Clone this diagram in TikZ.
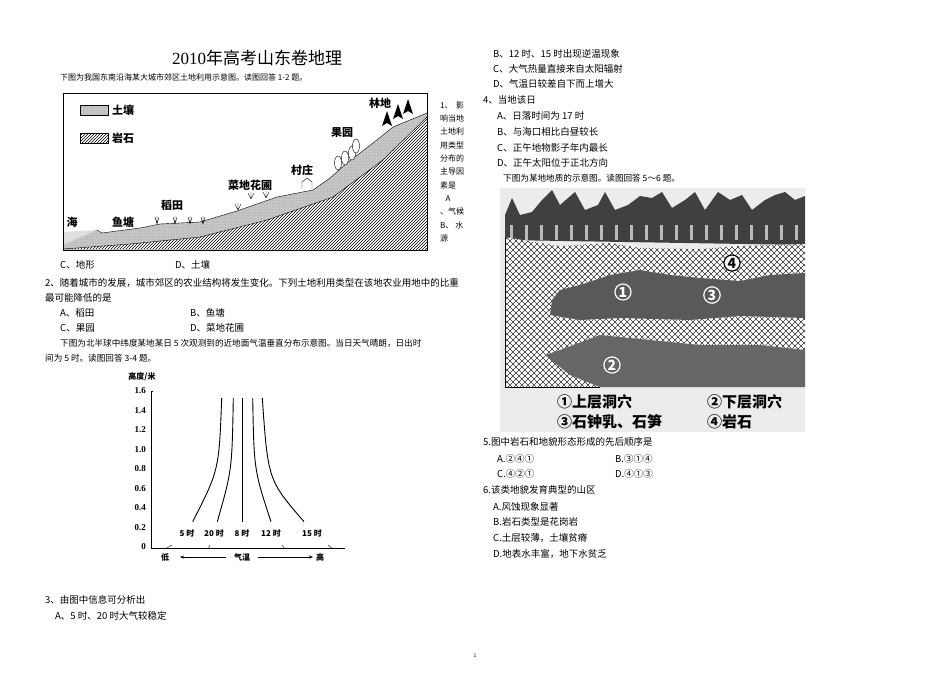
\documentclass[tikz,border=0pt]{standalone}
\usepackage{fontspec}
\setmainfont{Noto Sans CJK SC}
\newfontfamily\serifnum{Liberation Serif}
\usetikzlibrary{patterns,arrows.meta}
\begin{document}
\begin{tikzpicture}[x=1pt,y=-1pt,
  txt/.style={anchor=west,inner sep=0pt,font=\fontsize{9.5}{11}\selectfont},
  stxt/.style={anchor=west,inner sep=0pt,font=\fontsize{8}{10}\selectfont},
  lab/.style={inner sep=0pt,font=\bfseries\fontsize{11}{12}\selectfont},
  ax/.style={inner sep=0pt,font=\bfseries\fontsize{8}{10}\selectfont},
  curve/.style={line width=0.9pt},
  circ/.style={circle,draw=white,line width=1.2pt,inner sep=1pt,font=\bfseries\fontsize{14}{14}\selectfont,text=white}]
\useasboundingbox (0,0) rectangle (950,672);
\fill[white] (0,0) rectangle (950,672);
% title
\node[inner sep=0pt,font=\fontsize{17}{19}\selectfont] (title) at (257,58) {{\serifnum 2010}年高考山东卷地理};
\node[stxt] (t1) at (60,77) {下图为我国东南沿海某大城市郊区土地利用示意图。读图回答 1-2 题。};
% diagram 1
\fill[gray!25] (63,232) -- (97,230) -- (63,250) -- cycle;
\def\ground{(63,245) -- (97,230) -- (102,233) -- (140,228) -- (160,224) -- (200,222) -- (237,211) -- (277,197) -- (313,190) -- (330,178) -- (347,163) -- (373,143) -- (393,127) -- (427,113) -- (427,250) -- (63,250) -- cycle}
\fill[gray!45] \ground;
\fill[pattern=dots,pattern color=gray!90] \ground;
\draw (97,230) -- (102,233) -- (140,228) -- (160,224) -- (200,222) -- (237,211) -- (277,197) -- (313,190) -- (330,178) -- (347,163) -- (373,143) -- (393,127) -- (427,113);
\def\rockline{(63,249) -- (130,244) -- (200,237) -- (267,220) -- (333,197) -- (383,160) -- (427,117)}
\fill[white] \rockline -- (427,250) -- cycle;
\fill[pattern=north east lines] \rockline -- (427,250) -- cycle;
\draw \rockline;
\draw[line width=0.8pt] (63,93) rectangle (427,250);
\fill[gray!45] (80,105) rectangle (108,115); \fill[pattern=dots,pattern color=gray!90] (80,105) rectangle (108,115); \draw (80,105) rectangle (108,115);
\node[lab,anchor=west] (lsoil) at (112,110) {土壤};
\fill[pattern=north east lines] (80,133) rectangle (108,143); \draw (80,133) rectangle (108,143);
\node[lab,anchor=west] (lrock) at (112,138) {岩石};
\node[lab] (sea) at (72,222) {海};
\node[lab] (pond) at (123,222) {鱼塘};
\node[lab] (rice) at (172,205) {稻田};
\node[lab] (veg) at (250,185) {菜地花圃};
\node[lab] (vil) at (302,170) {村庄};
\node[lab] (orch) at (342,133) {果园};
\node[lab] (forest) at (380,103) {林地};
\foreach \x in {157,175,190,203} \draw (\x,224) -- (\x-2,217) (\x,224) -- (\x+2,217) (\x,224)--(\x,216);
\foreach \x/\y in {238/210,251/199,266/198} \draw (\x,\y) -- (\x-3,\y-6) (\x,\y) -- (\x+3,\y-6) (\x,\y)--(\x,\y-7);
\draw (302,189) -- (302,182) -- (307,178) -- (312,182) -- (312,189);
\foreach \x/\y in {338/163,345/158,352/153,356/146} \draw[fill=white] (\x,\y) ellipse (3.5 and 7);
\foreach \x/\y in {387/123,398/116,408/111} \fill (\x,\y) -- (\x-5,\y+3) -- (\x,\y-12) -- (\x+5,\y+3) -- cycle;
% right narrow column
\foreach \t [count=\i] in {1、\ \ 影,响当地,土地利,用类型,分布的,主导因,素是,\ \ \ A,、气候,B、 水,源}
  \node[stxt] (q1\i) at (440,92+\i*13.3) {\t};
\node[txt] (q1c) at (60,265) {C、地形};
\node[txt] (q1d) at (175,265) {D、土壤};
\node[txt] (q2) at (45,283) {2、随着城市的发展，城市郊区的农业结构将发生变化。下列土地利用类型在该地农业用地中的比重};
\node[txt] (q2b) at (45,298) {最可能降低的是};
\node[txt] (q2a1) at (60,313) {A、稻田};
\node[txt] (q2a2) at (190,313) {B、鱼塘};
\node[txt] (q2a3) at (60,328) {C、果园};
\node[txt] (q2a4) at (190,328) {D、菜地花圃};
\node[stxt,font=\fontsize{8.6}{10}\selectfont] (t2) at (60,343) {下图为北半球中纬度某地某日 5 次观测到的近地面气温垂直分布示意图。当日天气晴朗，日出时};
\node[stxt,font=\fontsize{8.6}{10}\selectfont] (t2b) at (45,358) {间为 5 时。读图回答 3-4 题。};
% graph
\node[ax] (ylab) at (142,377) {高度/米};
\draw[line width=0.8pt] (153,391) -- (151,391) -- (151,548) -- (345,548);
\foreach \v [count=\i from 0] in {0,0.2,0.4,0.6,0.8,1.0,1.2,1.4,1.6}
  \node[ax,anchor=east,font=\bfseries\fontsize{9}{10}\selectfont] (yt\i) at (146,547-\i*19.5) {\serifnum\v};
\draw[curve] (221.7,398) .. controls (219,470) .. (192.7,521.7);
\draw[curve] (233.3,398) .. controls (232,470) .. (217.3,521.7);
\draw[curve] (242.3,398) -- (242.3,522);
\draw[curve] (252.7,398) .. controls (254,470) .. (271,521.7);
\draw[curve] (262.3,398) .. controls (268,480) .. (304,521.7);
\node[ax] (h5) at (187,533) {5 时};
\node[ax] (h20) at (214,533) {20 时};
\node[ax] (h8) at (242,533) {8 时};
\node[ax] (h12) at (271,533) {12 时};
\node[ax] (h15) at (312,533) {15 时};
\draw (167,548) -- (172,545); \draw (208,549) -- (210,545);
\draw (282,545) -- (285,549); \draw (328,545) -- (333,549);
\node[ax] (low) at (165,557) {低};
\node[ax] (temp) at (242,557) {气温};
\node[ax] (high) at (320,557) {高};
\draw[-{Stealth[length=4pt]}] (temp.west) ++(-8,0) -- (180,557);
\draw[-{Stealth[length=4pt]}] (temp.east) ++(8,0) -- (313,557);
\node[txt] (q3) at (45,600) {3、由图中信息可分析出};
\node[txt] (q3a) at (55,616) {A、5 时、20 时大气较稳定};
\node[inner sep=0pt,font=\fontsize{5}{6}\selectfont] (pg) at (475,656) {1};
% right column
\node[txt] (q3b) at (493,54) {B、12 时、15 时出现逆温现象};
\node[txt] (q3c) at (493,69) {C、大气热量直接来自太阳辐射};
\node[txt] (q3d) at (493,84) {D、气温日较差自下而上增大};
\node[txt] (q4) at (483,100) {4、当地该日};
\node[txt] (q4a) at (497,116) {A、日落时间为 17 时};
\node[txt] (q4b) at (497,132) {B、与海口相比白昼较长};
\node[txt] (q4c) at (497,148) {C、正午地物影子年内最长};
\node[txt] (q4d) at (497,163) {D、正午太阳位于正北方向};
\node[stxt,font=\fontsize{8.6}{10}\selectfont] (t3) at (503,178) {下图为某地地质的示意图。读图回答 5～6 题。};
% cave picture
\fill[gray!15] (500,188) rectangle (805,432);
\fill[black!75] (505,240) -- (505,215) -- (512,198) -- (520,215) -- (532,212) -- (542,200) -- (552,190) -- (560,205) -- (575,192) -- (585,210) -- (598,205) -- (605,192) -- (615,210) -- (628,205) -- (640,196) -- (652,198) -- (662,192) -- (672,208) -- (685,200) -- (695,192) -- (705,210) -- (718,192) -- (730,200) -- (742,195) -- (752,210) -- (765,200) -- (775,195) -- (785,192) -- (795,200) -- (805,196) -- (805,245) -- cycle;
\foreach \x in {510,525,...,800} \fill[gray!55] (\x,225) rectangle (\x+3,240);
\def\rock{(505,237) -- (540,243) -- (560,246) -- (610,243) -- (640,248) -- (700,249) -- (740,246) -- (805,244) -- (805,273) -- (770,275) -- (740,281) -- (700,278) -- (670,275) -- (640,270) -- (610,275) -- (580,285) -- (560,290) -- (552,300) -- (550,315) -- (580,320) -- (620,318) -- (690,320) -- (740,316) -- (805,318) -- (805,350) -- (760,345) -- (700,345) -- (650,340) -- (600,335) -- (560,350) -- (545,355) -- (570,375) -- (600,387) -- (505,387) -- cycle}
\fill[white] \rock;
\begin{scope}
\clip \rock;
\foreach \k in {-160,-154,...,320} {
  \draw[black!80,line width=0.5pt] (500+\k,387) -- (500+\k+160,227);
  \draw[black!80,line width=0.5pt] (500+\k,227) -- (500+\k+160,387);
}
\end{scope}
\fill[black!65] (552,300) -- (560,290) -- (580,285) -- (610,275) -- (640,270) -- (670,275) -- (700,278) -- (740,281) -- (770,275) -- (805,273) -- (805,318) -- (740,316) -- (690,320) -- (620,318) -- (580,320) -- (550,315) -- cycle;
\fill[black!60] (545,355) -- (560,350) -- (600,335) -- (650,340) -- (700,345) -- (760,345) -- (805,350) -- (805,387) -- (600,387) -- (570,375) -- cycle;
\draw (505,237) -- (505,387) -- (600,387);
\node[circ] (c1) at (623,292) {1};
\node[circ] (c3) at (712,295) {3};
\node[circ] (c2) at (612,365) {2};
\node[circle,draw=black,fill=white,line width=1.2pt,inner sep=1pt,font=\bfseries\fontsize{14}{14}\selectfont] (c4) at (732,263) {4};
\node[inner sep=0pt,anchor=west,font=\bfseries\fontsize{15}{16}\selectfont] (leg1) at (557,402) {\char"2460上层洞穴};
\node[inner sep=0pt,anchor=west,font=\bfseries\fontsize{15}{16}\selectfont] (leg2) at (707,402) {\char"2461下层洞穴};
\node[inner sep=0pt,anchor=west,font=\bfseries\fontsize{15}{16}\selectfont] (leg3) at (557,422) {\char"2462石钟乳、石笋};
\node[inner sep=0pt,anchor=west,font=\bfseries\fontsize{15}{16}\selectfont] (leg4) at (707,422) {\char"2463岩石};
% Q5-6
\node[txt] (q5) at (483,442) {5.图中岩石和地貌形态形成的先后顺序是};
\node[txt] (q5a) at (497,459) {A.\char"2461\char"2463\char"2460};
\node[txt] (q5b) at (615,459) {B.\char"2462\char"2460\char"2463};
\node[txt] (q5c) at (497,474) {C.\char"2463\char"2461\char"2460};
\node[txt] (q5d) at (615,474) {D.\char"2463\char"2460\char"2462};
\node[txt] (q6) at (483,490) {6.该类地貌发育典型的山区};
\node[txt] (q6a) at (493,507) {A.风蚀现象显著};
\node[txt] (q6b) at (493,522) {B.岩石类型是花岗岩};
\node[txt] (q6c) at (493,538) {C.土层较薄，土壤贫瘠};
\node[txt] (q6d) at (493,554) {D.地表水丰富，地下水贫乏};
\end{tikzpicture}
\end{document}
